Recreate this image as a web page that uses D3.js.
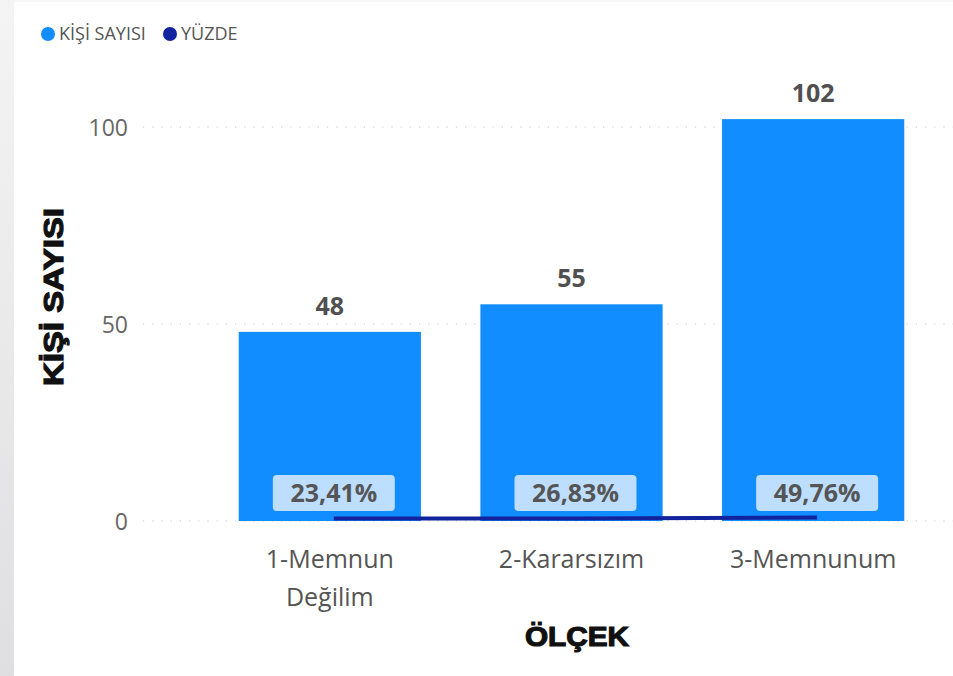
<!DOCTYPE html>
<html>
<head>
<meta charset="utf-8">
<script src="https://cdn.jsdelivr.net/npm/d3@7"></script>
<style>
  body { margin: 0; background: #fff; }
  svg { display: block; }
</style>
</head>
<body>
<svg width="953" height="676"></svg>
<script>
// values
const categories = ["1-Memnun Değilim", "2-Kararsızım", "3-Memnunum"];
const kisiSayisi = [48, 55, 102];
const yuzde = [0.2341, 0.2683, 0.4976];
const yuzdeLabels = ["23,41%", "26,83%", "49,76%"];
const yTicks = [0, 50, 100];

const barColor = "#118DFF";
const lineColor = "#12239E";

var svg = d3.select("svg");
var width = +svg.attr("width");
var height = +svg.attr("height");

// grey page edge on the left
var grad = svg.append("defs").append("linearGradient")
    .attr("id", "edge").attr("x1", 0).attr("y1", 0).attr("x2", 0).attr("y2", 1);
grad.append("stop").attr("offset", "0%").attr("stop-color", "#f4f4f4");
grad.append("stop").attr("offset", "100%").attr("stop-color", "#dfdfe1");
svg.append("rect").attr("x", 0).attr("y", 0).attr("width", 14).attr("height", height)
    .attr("fill", "url(#edge)");
svg.append("rect").attr("x", 14).attr("y", 0).attr("width", width - 14).attr("height", 2)
    .attr("fill", "#f6f6f6");

var x = d3.scaleBand()
    .domain(categories)
    .range([209, 934])
    .paddingInner(0.246)
    .paddingOuter(0.123);

var y = d3.scaleLinear()
    .domain([0, 100])
    .range([521, 127]);

const font = "'Segoe UI', 'Open Sans', 'Noto Sans', sans-serif";
const titleFont = "'Liberation Sans', Arial, sans-serif";

// gridlines
svg.append("g")
    .selectAll("line")
    .data(yTicks)
    .enter().append("line")
    .attr("x1", 143).attr("x2", width)
    .attr("y1", d => y(d)).attr("y2", d => y(d))
    .attr("stroke", "#c8c8c8")
    .attr("stroke-width", 1.2)
    .attr("stroke-dasharray", "1.2,8");

// y axis
var yAxis = svg.append("g")
    .attr("transform", "translate(128,0)")
    .call(d3.axisLeft(y).tickValues(yTicks).tickSize(0).tickPadding(0));
yAxis.select(".domain").remove();
yAxis.selectAll("text")
    .attr("font-family", font)
    .attr("font-size", 23)
    .attr("fill", "#666")
    .attr("dy", "0.35em");

// bars
svg.append("g")
    .selectAll("rect")
    .data(kisiSayisi)
    .enter().append("rect")
    .attr("x", (d, i) => x(categories[i]))
    .attr("width", x.bandwidth())
    .attr("y", d => y(d))
    .attr("height", d => y(0) - y(d))
    .attr("fill", barColor);

// bar value labels
svg.append("g")
    .selectAll("text")
    .data(kisiSayisi)
    .enter().append("text")
    .attr("x", (d, i) => x(categories[i]) + x.bandwidth() / 2)
    .attr("y", d => y(d) - 17)
    .attr("text-anchor", "middle")
    .attr("font-family", font)
    .attr("font-weight", "bold")
    .attr("font-size", 25)
    .attr("fill", "#505050")
    .text(d => d);

// percentage line
var cx = (d, i) => x(categories[i]) + x.bandwidth() / 2 + 4;
svg.append("path")
    .datum(yuzde)
    .attr("d", d3.line().x(cx).y(d => y(d) - 1.5))
    .attr("fill", "none")
    .attr("stroke", lineColor)
    .attr("stroke-width", 4);

// percentage label boxes
var pl = svg.append("g")
    .selectAll("g")
    .data(yuzdeLabels)
    .enter().append("g")
    .attr("transform", (d, i) => `translate(${cx(d, i)},${y(0) - 28})`);
pl.append("rect")
    .attr("x", -61).attr("y", -18)
    .attr("width", 122).attr("height", 36)
    .attr("rx", 4)
    .attr("fill", "#BEDEFF");
pl.append("text")
    .attr("text-anchor", "middle")
    .attr("dy", "0.36em")
    .attr("font-family", font)
    .attr("font-weight", "bold")
    .attr("font-size", 25)
    .attr("fill", "#555")
    .text(d => d);

// x category labels, wrapped
var xl = svg.append("g")
    .selectAll("text")
    .data(categories)
    .enter().append("text")
    .attr("x", d => x(d) + x.bandwidth() / 2)
    .attr("y", 568)
    .attr("text-anchor", "middle")
    .attr("font-family", font)
    .attr("font-size", 25)
    .attr("fill", "#555");
xl.each(function (d) {
    var parts = d === "1-Memnun Değilim" ? ["1-Memnun", "Değilim"] : [d];
    var t = d3.select(this);
    parts.forEach((p, j) => {
        t.append("tspan")
            .attr("x", t.attr("x"))
            .attr("dy", j === 0 ? 0 : 38)
            .text(p);
    });
});

// axis titles
svg.append("text")
    .attr("transform", "translate(63,297) rotate(-90)")
    .attr("text-anchor", "middle")
    .attr("font-family", titleFont)
    .attr("font-weight", "900")
    .attr("font-size", 28)
    .attr("fill", "#111")
    .attr("stroke", "#111")
    .attr("stroke-width", 1.2)
    .attr("textLength", 178)
    .attr("lengthAdjust", "spacingAndGlyphs")
    .text("KİŞİ SAYISI");

svg.append("text")
    .attr("x", 577)
    .attr("y", 646)
    .attr("text-anchor", "middle")
    .attr("font-family", titleFont)
    .attr("font-weight", "900")
    .attr("font-size", 28)
    .attr("fill", "#111")
    .attr("stroke", "#111")
    .attr("stroke-width", 1.2)
    .attr("textLength", 104)
    .attr("lengthAdjust", "spacingAndGlyphs")
    .text("ÖLÇEK");

// legend
const legendItems = [
    { name: "KİŞİ SAYISI", color: barColor, x: 48 },
    { name: "YÜZDE", color: lineColor, x: 170 }
];
var lg = svg.append("g")
    .selectAll("g")
    .data(legendItems)
    .enter().append("g")
    .attr("transform", d => `translate(${d.x},34)`);
lg.append("circle").attr("r", 7).attr("fill", d => d.color);
lg.append("text")
    .attr("x", 11)
    .attr("dy", "0.35em")
    .attr("font-family", font)
    .attr("font-size", 18)
    .attr("fill", "#555")
    .text(d => d.name);
</script>
</body>
</html>
